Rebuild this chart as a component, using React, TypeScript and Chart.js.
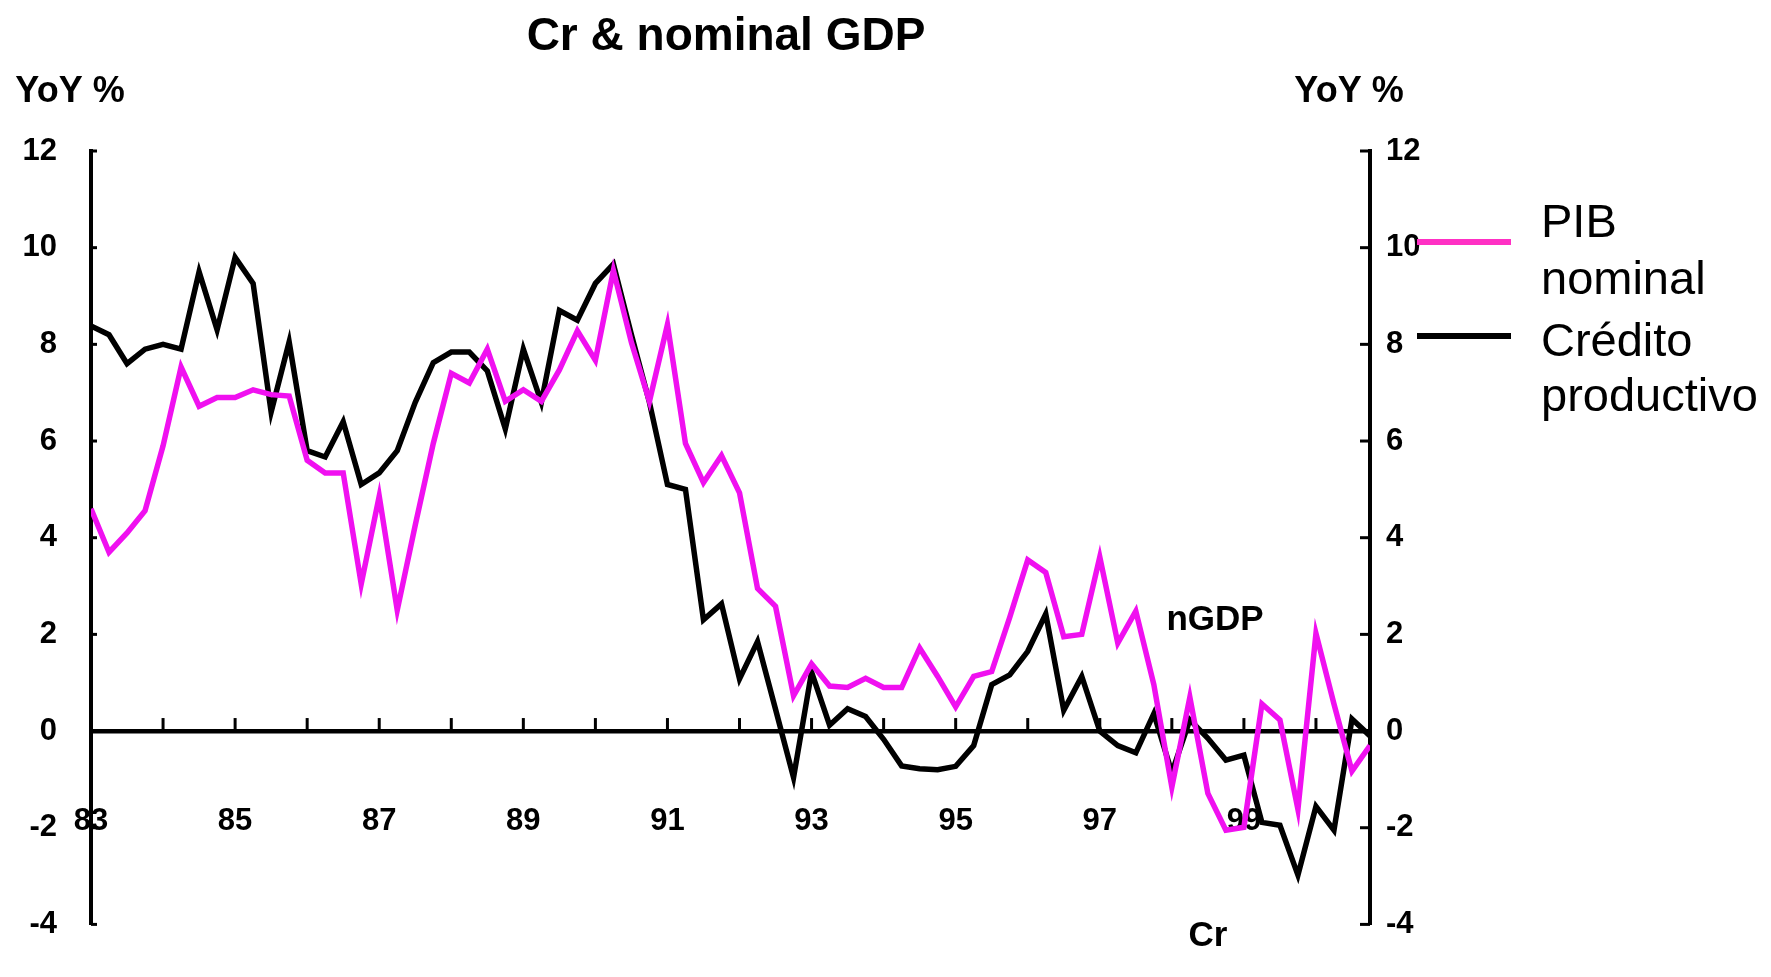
import React, { useEffect, useRef } from 'react';
import { Chart, registerables } from 'chart.js';

Chart.register(...registerables);

// Quarterly periods
const periods = [
  '1983Q1', '1983Q2', '1983Q3', '1983Q4',
  '1984Q1', '1984Q2', '1984Q3', '1984Q4',
  '1985Q1', '1985Q2', '1985Q3', '1985Q4',
  '1986Q1', '1986Q2', '1986Q3', '1986Q4',
  '1987Q1', '1987Q2', '1987Q3', '1987Q4',
  '1988Q1', '1988Q2', '1988Q3', '1988Q4',
  '1989Q1', '1989Q2', '1989Q3', '1989Q4',
  '1990Q1', '1990Q2', '1990Q3', '1990Q4',
  '1991Q1', '1991Q2', '1991Q3', '1991Q4',
  '1992Q1', '1992Q2', '1992Q3', '1992Q4',
  '1993Q1', '1993Q2', '1993Q3', '1993Q4',
  '1994Q1', '1994Q2', '1994Q3', '1994Q4',
  '1995Q1', '1995Q2', '1995Q3', '1995Q4',
  '1996Q1', '1996Q2', '1996Q3', '1996Q4',
  '1997Q1', '1997Q2', '1997Q3', '1997Q4',
  '1998Q1', '1998Q2', '1998Q3', '1998Q4',
  '1999Q1', '1999Q2', '1999Q3', '1999Q4',
  '2000Q1', '2000Q2', '2000Q3', '2000Q4',
];

// PIB nominal (nGDP), YoY %
const nominalGdp = [
  4.6, 3.7, 4.1, 4.56,
  5.9, 7.53, 6.72, 6.9,
  6.9, 7.06, 6.96, 6.93,
  5.6, 5.34, 5.34, 3.04,
  4.86, 2.5, 4.26, 5.95,
  7.4, 7.2, 7.9, 6.82,
  7.06, 6.82, 7.47, 8.28,
  7.67, 9.53, 8.04, 6.82,
  8.41, 5.95, 5.14, 5.7,
  4.93, 2.95, 2.58, 0.73,
  1.39, 0.93, 0.9, 1.09,
  0.9, 0.9, 1.72, 1.13,
  0.5, 1.13, 1.23, 2.35,
  3.54, 3.28, 1.95, 2.0,
  3.6, 1.82, 2.48, 0.96,
  -1.16, 0.7, -1.29, -2.05,
  -1.99, 0.56, 0.23, -1.62,
  2.02, 0.56, -0.83, -0.3,
];

// Crédito productivo (Cr), YoY %
const credit = [
  8.38, 8.2, 7.6, 7.9,
  8.0, 7.9, 9.5, 8.3,
  9.8, 9.26, 6.6, 8.05,
  5.8, 5.67, 6.4, 5.1,
  5.34, 5.8, 6.8, 7.62,
  7.84, 7.84, 7.45, 6.25,
  7.9, 6.8, 8.7, 8.5,
  9.26, 9.66, 8.2, 6.8,
  5.1, 5.0, 2.3, 2.63,
  1.08, 1.85, 0.45, -0.96,
  1.22, 0.12, 0.46, 0.3,
  -0.17, -0.72, -0.78, -0.8,
  -0.73, -0.3, 0.96, 1.16,
  1.65, 2.42, 0.43, 1.13,
  0.0, -0.3, -0.45, 0.36,
  -0.86, 0.23, -0.15, -0.6,
  -0.5, -1.89, -1.95, -2.98,
  -1.56, -2.05, 0.25, -0.1,
];

// Axis ticks
const yTickValues = [-4, -2, 0, 2, 4, 6, 8, 10, 12];
const xTickYears = [1983, 1984, 1985, 1986, 1987, 1988, 1989, 1990, 1991, 1992, 1993, 1994, 1995, 1996, 1997, 1998, 1999, 2000];
const xLabelYears = [1983, 1985, 1987, 1989, 1991, 1993, 1995, 1997, 1999];

const seriesLabels = ['PIB nominal', 'Crédito productivo'];
const chartTitle = 'Cr & nominal GDP';
const axisUnit = 'YoY %';
const inlineLabels = ['nGDP', 'Cr'];

const toYear = (p: string) => Number(p.slice(0, 4)) + (Number(p.slice(5)) - 1) / 4;

const FONT = "'Liberation Sans', Arial, Helvetica, sans-serif";
const PINK = '#F010F0';
const LEGEND_PINK = '#FF30C4';

export default function App() {
  const ref = useRef<HTMLCanvasElement>(null);

  useEffect(() => {
    document.body.style.margin = '0';
    const canvas = ref.current;
    if (!canvas) return;

    const deco = {
      id: 'deco',
      afterDraw(chart: any) {
        const ctx = chart.ctx as CanvasRenderingContext2D;
        const area = chart.chartArea;
        const xs = chart.scales.x;
        const ys = chart.scales.y;
        const y0 = ys.getPixelForValue(0);
        ctx.save();
        ctx.strokeStyle = '#000';
        ctx.lineWidth = 3;
        ctx.lineCap = 'butt';
        // inward ticks on y axes
        yTickValues.forEach((v) => {
          const py = ys.getPixelForValue(v);
          ctx.beginPath();
          ctx.moveTo(area.left, py);
          ctx.lineTo(area.left + 6, py);
          ctx.stroke();
          ctx.beginPath();
          ctx.moveTo(area.right, py);
          ctx.lineTo(area.right - 10, py);
          ctx.stroke();
        });
        // upward ticks on x axis (zero line)
        xTickYears.forEach((yr) => {
          if (yr === xTickYears[0]) return;
          const px = xs.getPixelForValue(yr);
          ctx.beginPath();
          ctx.moveTo(px, y0);
          ctx.lineTo(px, y0 - 13);
          ctx.stroke();
        });

        // texts
        ctx.fillStyle = '#000';
        ctx.textBaseline = 'alphabetic';
        ctx.textAlign = 'center';
        ctx.font = `bold 46px ${FONT}`;
        ctx.fillText(chartTitle, 726, 50);
        ctx.font = `bold 36px ${FONT}`;
        ctx.fillText(axisUnit, 70, 102);
        ctx.fillText(axisUnit, 1349, 102);
        ctx.font = `bold 35px ${FONT}`;
        ctx.fillText(inlineLabels[0], 1215, 630);
        ctx.fillText(inlineLabels[1], 1208, 946);

        // legend
        const legendColors = [LEGEND_PINK, '#000'];
        const sampleY = [242, 336];
        ctx.lineWidth = 6;
        legendColors.forEach((c, i) => {
          ctx.strokeStyle = c;
          ctx.beginPath();
          ctx.moveTo(1417, sampleY[i]);
          ctx.lineTo(1511, sampleY[i]);
          ctx.stroke();
        });
        ctx.textAlign = 'left';
        ctx.font = `47px ${FONT}`;
        const lines = [...seriesLabels[0].split(' '), ...seriesLabels[1].split(' ')];
        const baselines = [237, 294, 356, 411];
        lines.forEach((t, i) => ctx.fillText(t, 1541, baselines[i]));
        ctx.restore();
      },
    };

    const tickFont = { family: FONT, weight: 'bold' as const, size: 31 };

    const chart = new Chart(canvas, {
      type: 'line',
      data: {
        datasets: [
          {
            label: seriesLabels[0],
            data: periods.map((p, i) => ({ x: toYear(p), y: nominalGdp[i] })),
            borderColor: PINK,
            backgroundColor: PINK,
            borderWidth: 5.5,
            pointRadius: 0,
            tension: 0,
            yAxisID: 'y',
          },
          {
            label: seriesLabels[1],
            data: periods.map((p, i) => ({ x: toYear(p), y: credit[i] })),
            borderColor: '#000',
            backgroundColor: '#000',
            borderWidth: 5.5,
            pointRadius: 0,
            tension: 0,
            yAxisID: 'y',
          },
        ],
      },
      options: {
        animation: false,
        responsive: false,
        events: [],
        layout: { padding: { top: 151, bottom: 18, left: 0, right: 0 } },
        plugins: {
          legend: { display: false },
          title: { display: false },
          tooltip: { enabled: false },
        },
        scales: {
          x: {
            type: 'linear',
            position: { y: 0 },
            min: 1983,
            max: 2000.75,
            afterBuildTicks: (s: any) => {
              s.ticks = xTickYears.map((v) => ({ value: v }));
            },
            ticks: {
              autoSkip: false,
              maxRotation: 0,
              padding: 72,
              color: '#000',
              font: tickFont,
              callback: (v: any) => (xLabelYears.includes(Number(v)) ? String(v).slice(2) : ''),
            },
            grid: { display: true, drawOnChartArea: false, drawTicks: false, color: 'rgba(0,0,0,0)' },
            border: { display: true, color: '#000', width: 4.5 },
          },
          y: {
            type: 'linear',
            position: 'left',
            min: -4,
            max: 12,
            afterBuildTicks: (s: any) => {
              s.ticks = yTickValues.map((v) => ({ value: v }));
            },
            afterFit: (s: any) => {
              s.width = 91;
            },
            ticks: { padding: 34, color: '#000', font: tickFont },
            grid: { display: true, drawOnChartArea: false, drawTicks: false, color: 'rgba(0,0,0,0)' },
            border: { display: true, color: '#000', width: 4 },
          },
          y2: {
            type: 'linear',
            position: 'right',
            min: -4,
            max: 12,
            afterBuildTicks: (s: any) => {
              s.ticks = yTickValues.map((v) => ({ value: v }));
            },
            afterFit: (s: any) => {
              s.width = 401;
            },
            ticks: { padding: 16, color: '#000', font: tickFont },
            grid: { display: true, drawOnChartArea: false, drawTicks: false, color: 'rgba(0,0,0,0)' },
            border: { display: true, color: '#000', width: 4 },
          },
        },
      },
      plugins: [deco],
    } as any);

    return () => chart.destroy();
  }, []);

  return (
    <div style={{ width: 1771, height: 977, background: '#fff' }}>
      <canvas ref={ref} width={1771} height={977} style={{ display: 'block', width: 1771, height: 977 }} />
    </div>
  );
}
